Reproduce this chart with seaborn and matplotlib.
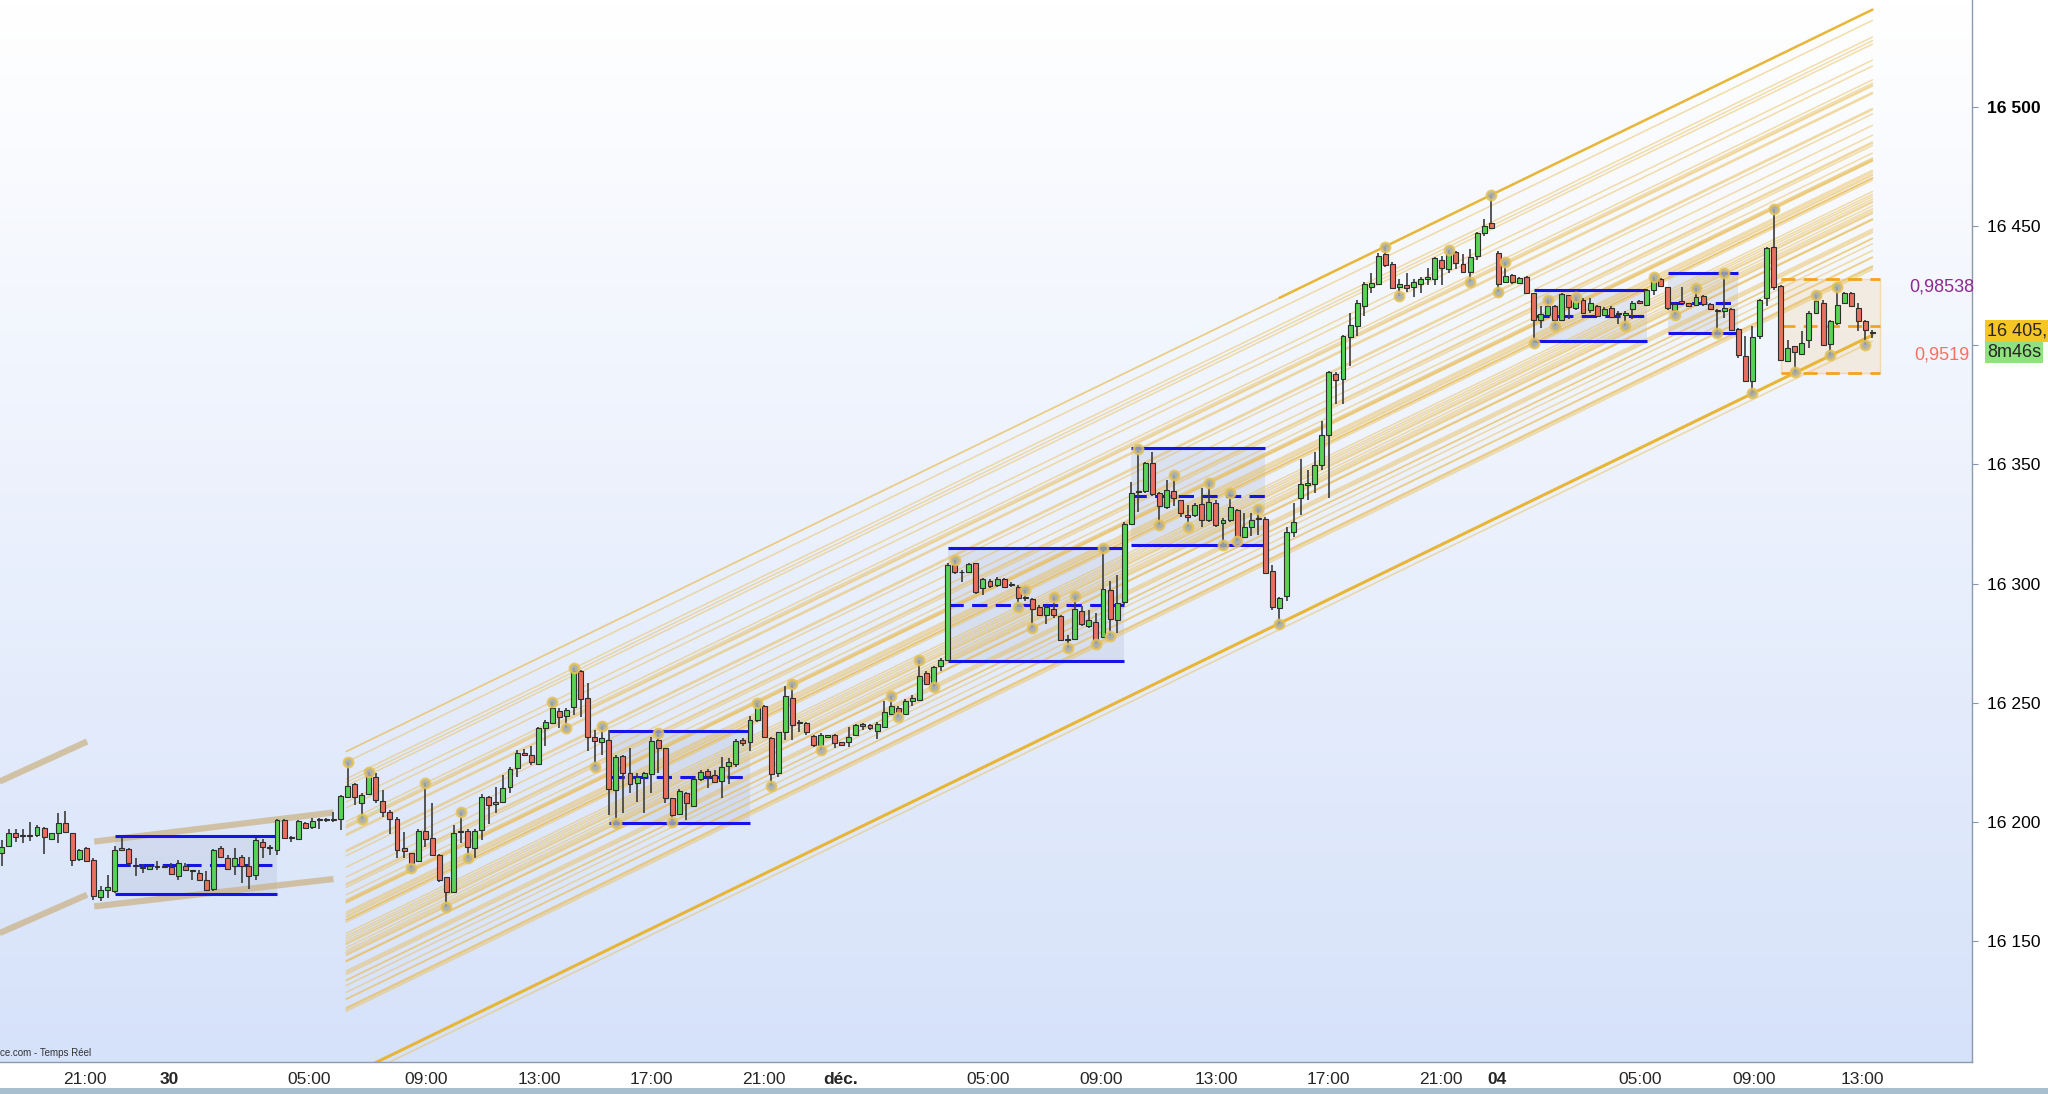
import numpy as np
import seaborn as sns
import matplotlib
matplotlib.use("Agg")
import matplotlib.pyplot as plt
import matplotlib.transforms as mtransforms
from matplotlib import font_manager
from matplotlib.patches import Rectangle

# ---------------------------------------------------------
# DONNÉES : bougies 15 min (index 0 = première bougie visible)
# ---------------------------------------------------------
opens = [
    16187.0, 16189.9, 16195.2, 16194.0, 16194.0, 16194.5, 16197.3, 16192.7, 16195.2, 16199.4,
    16195.2, 16184.3, 16188.9, 16184.1, 16168.4, 16171.5, 16170.8, 16188.2, 16188.5, 16182.0,
    16180.8, 16180.1, 16181.0, 16181.3, 16181.0, 16177.1, 16181.5, 16179.4, 16178.5, 16175.4,
    16171.7, 16188.9, 16184.7, 16181.3, 16185.4, 16181.5, 16177.8, 16191.7, 16188.9, 16188.2,
    16200.8, 16193.8, 16192.7, 16199.7, 16197.8, 16200.8, 16200.8, 16200.8, 16201.1, 16210.3,
    16215.9, 16207.8, 16211.7, 16218.7, 16208.9, 16204.3, 16201.1, 16188.9, 16186.8, 16183.7,
    16196.3, 16193.1, 16186.1, 16176.7, 16170.7, 16195.6, 16196.3, 16188.9, 16196.6, 16210.6,
    16207.3, 16208.2, 16214.5, 16222.5, 16229.0, 16228.0, 16224.3, 16239.2, 16241.6, 16246.6,
    16244.4, 16248.0, 16263.3, 16251.8, 16235.7, 16233.4, 16234.3, 16213.4, 16227.8, 16220.4,
    16216.4, 16218.7, 16220.1, 16234.3, 16230.8, 16209.9, 16203.3, 16212.2, 16206.6, 16217.9,
    16221.5, 16219.7, 16217.3, 16223.5, 16224.3, 16234.4, 16233.7, 16242.8, 16248.6, 16235.1,
    16220.4, 16237.9, 16251.9, 16241.4, 16241.4, 16236.2, 16232.3, 16235.8, 16236.5, 16233.4,
    16233.4, 16236.5, 16241.0, 16240.5, 16238.3, 16240.0, 16245.3, 16247.7, 16245.3, 16250.5,
    16251.2, 16262.6, 16257.9, 16265.2, 16268.0, 16307.8, 16304.7, 16304.7, 16308.5, 16298.0,
    16301.2, 16299.4, 16301.8, 16299.4, 16298.7, 16293.9, 16293.5, 16290.1, 16286.9, 16289.3,
    16286.5, 16276.4, 16276.8, 16288.3, 16282.3, 16283.7, 16277.5, 16297.4, 16284.8, 16292.1,
    16325.1, 16338.6, 16339.0, 16350.5, 16338.2, 16332.1, 16339.0, 16334.9, 16328.8, 16328.8,
    16333.5, 16326.7, 16333.7, 16325.3, 16326.5, 16330.9, 16319.7, 16323.7, 16327.2, 16327.0,
    16305.1, 16289.7, 16294.9, 16321.8, 16335.8, 16341.4, 16341.8, 16349.8, 16362.4, 16388.0,
    16385.8, 16403.4, 16407.9, 16416.5, 16424.4, 16425.6, 16438.4, 16434.2, 16424.4, 16425.1,
    16424.4, 16425.8, 16428.0, 16427.9, 16435.8, 16431.9, 16439.3, 16434.2, 16430.9, 16437.5,
    16447.0, 16451.2, 16438.6, 16426.5, 16429.5, 16426.0, 16428.8, 16421.8, 16410.7, 16412.8,
    16416.5, 16410.7, 16421.1, 16415.6, 16418.8, 16414.6, 16416.5, 16412.8, 16415.6, 16413.2,
    16412.8, 16415.1, 16418.4, 16417.0, 16423.2, 16427.7, 16424.4, 16414.9, 16418.4, 16417.7,
    16417.0, 16420.7, 16417.4, 16414.9, 16414.2, 16415.1, 16406.7, 16395.6, 16384.8, 16403.7,
    16419.7, 16441.1, 16424.9, 16393.2, 16399.5, 16396.4, 16402.0, 16413.7, 16417.9, 16400.6,
    16409.3, 16417.7, 16421.8, 16415.6, 16410.0, 16405.3,
]
highs = [
    16192.4, 16196.9, 16196.9, 16197.0, 16200.0, 16198.7, 16197.8, 16195.5, 16203.9, 16204.6,
    16195.5, 16188.8, 16189.3, 16184.7, 16172.9, 16177.8, 16189.9, 16193.1, 16188.9, 16184.7,
    16182.4, 16181.5, 16183.4, 16181.8, 16182.7, 16183.8, 16182.7, 16179.9, 16179.6, 16179.2,
    16188.5, 16189.9, 16186.1, 16188.9, 16186.1, 16185.4, 16193.1, 16192.7, 16190.3, 16201.1,
    16201.1, 16194.1, 16200.8, 16200.1, 16201.5, 16201.8, 16201.5, 16204.3, 16211.3, 16225.3,
    16216.2, 16212.0, 16221.1, 16220.4, 16213.4, 16205.0, 16202.0, 16195.9, 16187.0, 16196.9,
    16216.2, 16208.0, 16186.3, 16177.0, 16198.7, 16204.3, 16196.9, 16196.9, 16211.7, 16210.8,
    16214.8, 16219.7, 16223.2, 16230.1, 16230.4, 16231.8, 16239.7, 16242.7, 16250.4, 16247.6,
    16247.6, 16264.4, 16263.7, 16258.1, 16238.5, 16240.2, 16238.5, 16228.0, 16228.0, 16230.8,
    16220.4, 16221.1, 16235.7, 16237.1, 16231.0, 16210.2, 16213.6, 16212.7, 16218.3, 16221.8,
    16222.1, 16221.8, 16227.1, 16226.7, 16234.7, 16235.1, 16244.2, 16250.0, 16249.1, 16235.8,
    16237.9, 16256.8, 16257.9, 16242.8, 16242.1, 16236.5, 16237.2, 16236.5, 16236.9, 16233.7,
    16239.7, 16241.1, 16241.4, 16241.0, 16241.7, 16250.9, 16252.6, 16248.4, 16251.4, 16253.3,
    16268.0, 16263.1, 16265.4, 16268.6, 16308.5, 16309.9, 16305.7, 16308.8, 16308.8, 16302.2,
    16301.8, 16302.6, 16302.3, 16300.5, 16299.4, 16297.4, 16293.9, 16291.1, 16291.1, 16294.3,
    16286.9, 16278.5, 16294.6, 16290.4, 16289.0, 16287.6, 16314.9, 16300.9, 16303.7, 16326.0,
    16342.8, 16356.4, 16351.2, 16355.4, 16338.6, 16343.5, 16345.6, 16335.1, 16333.0, 16333.7,
    16340.0, 16342.4, 16335.1, 16327.4, 16338.2, 16331.2, 16329.8, 16329.8, 16331.2, 16327.9,
    16307.9, 16294.3, 16323.7, 16334.0, 16352.2, 16347.7, 16355.4, 16368.4, 16389.0, 16388.6,
    16404.4, 16413.7, 16418.8, 16426.7, 16430.5, 16438.6, 16441.4, 16435.1, 16427.7, 16430.5,
    16427.7, 16428.6, 16432.3, 16437.0, 16437.5, 16440.0, 16439.7, 16438.4, 16440.3, 16447.7,
    16452.9, 16463.1, 16439.7, 16435.1, 16430.0, 16428.6, 16429.1, 16422.1, 16416.5, 16419.1,
    16417.0, 16422.1, 16421.2, 16420.2, 16419.7, 16419.7, 16417.0, 16416.0, 16416.3, 16414.2,
    16414.2, 16418.4, 16418.8, 16423.5, 16428.8, 16428.1, 16424.6, 16417.9, 16424.4, 16417.9,
    16423.9, 16421.1, 16417.7, 16415.1, 16430.2, 16415.6, 16407.2, 16403.7, 16407.9, 16419.3,
    16441.4, 16457.1, 16425.3, 16402.3, 16399.7, 16405.8, 16414.2, 16421.1, 16418.8, 16410.7,
    16424.6, 16422.5, 16422.5, 16417.7, 16410.4, 16406.5,
]
lows = [
    16181.3, 16189.4, 16191.7, 16191.0, 16192.0, 16193.8, 16186.6, 16192.4, 16191.3, 16195.5,
    16181.3, 16183.6, 16183.0, 16167.3, 16166.6, 16168.0, 16170.1, 16187.6, 16182.0, 16177.1,
    16178.7, 16179.6, 16179.9, 16180.6, 16177.8, 16175.7, 16179.2, 16175.7, 16175.2, 16170.8,
    16171.0, 16184.7, 16179.9, 16177.8, 16174.3, 16171.7, 16175.7, 16184.7, 16186.1, 16186.1,
    16192.7, 16191.7, 16192.4, 16196.9, 16196.9, 16196.9, 16200.1, 16200.1, 16196.4, 16209.9,
    16207.1, 16201.1, 16211.3, 16208.1, 16202.0, 16195.0, 16184.7, 16184.7, 16180.5, 16183.3,
    16189.6, 16185.7, 16174.9, 16164.4, 16170.4, 16191.0, 16184.7, 16184.7, 16192.4, 16199.1,
    16203.9, 16207.8, 16212.0, 16219.0, 16227.6, 16223.9, 16223.9, 16231.8, 16241.3, 16239.2,
    16239.2, 16244.8, 16243.9, 16229.9, 16223.2, 16228.0, 16202.9, 16199.4, 16203.6, 16212.0,
    16208.5, 16203.6, 16212.0, 16220.4, 16207.8, 16200.1, 16202.9, 16200.8, 16206.4, 16217.3,
    16214.1, 16216.2, 16209.9, 16215.9, 16223.2, 16231.9, 16229.9, 16242.1, 16235.5, 16215.1,
    16219.0, 16234.4, 16234.4, 16237.9, 16236.5, 16231.6, 16230.2, 16235.5, 16230.9, 16231.9,
    16231.6, 16236.1, 16238.6, 16238.6, 16234.7, 16239.7, 16244.9, 16243.9, 16244.9, 16248.4,
    16250.5, 16257.5, 16256.5, 16263.5, 16267.7, 16303.9, 16300.8, 16304.3, 16295.5, 16295.2,
    16298.0, 16298.7, 16298.2, 16298.5, 16290.3, 16292.5, 16281.3, 16286.2, 16283.1, 16285.5,
    16276.1, 16272.9, 16276.4, 16282.3, 16281.3, 16274.7, 16277.1, 16277.8, 16279.2, 16291.1,
    16324.6, 16330.2, 16337.9, 16336.8, 16324.6, 16331.2, 16332.6, 16328.1, 16323.7, 16328.1,
    16323.7, 16326.0, 16323.9, 16316.3, 16326.0, 16317.7, 16319.5, 16320.0, 16320.4, 16304.1,
    16289.0, 16283.1, 16292.5, 16319.7, 16328.8, 16334.9, 16338.2, 16347.7, 16335.8, 16375.4,
    16375.4, 16391.4, 16403.9, 16412.3, 16422.1, 16425.3, 16432.8, 16423.5, 16420.7, 16422.5,
    16420.4, 16422.1, 16425.3, 16425.3, 16425.3, 16430.5, 16431.9, 16430.2, 16426.7, 16435.8,
    16445.9, 16448.7, 16422.5, 16426.0, 16425.8, 16425.8, 16421.6, 16401.1, 16407.2, 16412.1,
    16407.9, 16410.0, 16410.9, 16414.6, 16413.5, 16413.5, 16411.8, 16412.1, 16411.4, 16409.0,
    16408.1, 16410.9, 16417.4, 16416.5, 16421.1, 16424.6, 16414.9, 16412.8, 16417.4, 16416.0,
    16416.5, 16416.5, 16414.6, 16405.1, 16411.4, 16406.2, 16394.6, 16384.5, 16379.9, 16402.5,
    16416.5, 16423.2, 16393.2, 16392.8, 16388.6, 16396.0, 16398.8, 16413.2, 16399.7, 16396.0,
    16408.6, 16417.4, 16416.0, 16405.8, 16400.2, 16403.0,
]
closes = [
    16189.4, 16195.2, 16193.6, 16194.1, 16194.3, 16198.0, 16193.6, 16195.2, 16199.4, 16195.9,
    16184.1, 16188.2, 16183.4, 16168.7, 16171.5, 16172.6, 16188.2, 16188.9, 16182.7, 16181.3,
    16180.6, 16181.3, 16181.1, 16181.2, 16178.2, 16182.7, 16179.9, 16179.3, 16175.4, 16171.5,
    16188.2, 16185.4, 16180.1, 16184.7, 16181.3, 16177.3, 16192.4, 16189.4, 16189.0, 16200.8,
    16193.1, 16193.1, 16200.4, 16197.3, 16200.4, 16200.9, 16200.9, 16200.9, 16210.9, 16215.1,
    16210.3, 16211.3, 16219.7, 16209.2, 16204.3, 16201.1, 16188.2, 16187.8, 16182.6, 16196.3,
    16192.8, 16186.1, 16175.6, 16170.4, 16195.2, 16195.7, 16189.6, 16196.3, 16210.3, 16207.1,
    16208.2, 16214.1, 16222.0, 16229.0, 16228.0, 16225.0, 16239.2, 16242.0, 16247.6, 16243.9,
    16246.9, 16263.4, 16251.4, 16235.7, 16234.1, 16235.0, 16213.6, 16227.3, 16220.6, 16215.9,
    16218.7, 16220.6, 16234.1, 16230.8, 16209.9, 16202.9, 16213.1, 16207.8, 16217.8, 16220.8,
    16219.3, 16216.9, 16222.8, 16225.0, 16234.1, 16233.0, 16242.8, 16248.4, 16235.8, 16220.1,
    16237.5, 16252.6, 16240.7, 16241.5, 16237.5, 16232.3, 16236.5, 16236.3, 16233.0, 16232.3,
    16235.4, 16240.7, 16240.3, 16239.3, 16241.0, 16245.9, 16248.6, 16245.9, 16250.9, 16251.9,
    16261.4, 16257.9, 16264.9, 16268.0, 16307.8, 16304.7, 16304.8, 16308.2, 16296.3, 16301.8,
    16299.0, 16301.8, 16298.7, 16299.5, 16293.8, 16294.0, 16289.3, 16286.9, 16290.1, 16286.9,
    16276.4, 16276.5, 16289.3, 16283.1, 16284.5, 16276.1, 16297.7, 16285.1, 16291.8, 16325.1,
    16338.2, 16338.7, 16350.5, 16337.7, 16332.6, 16339.3, 16335.8, 16329.8, 16327.9, 16333.0,
    16326.5, 16334.4, 16324.6, 16326.5, 16332.1, 16319.0, 16323.9, 16326.5, 16327.3, 16304.4,
    16290.1, 16293.9, 16321.8, 16326.0, 16341.8, 16342.4, 16349.8, 16362.4, 16388.6, 16385.5,
    16403.7, 16408.6, 16417.7, 16425.6, 16426.0, 16437.5, 16433.7, 16423.9, 16425.6, 16423.9,
    16426.7, 16427.7, 16428.8, 16436.5, 16432.3, 16438.9, 16434.4, 16430.9, 16437.0, 16447.0,
    16450.1, 16449.1, 16425.8, 16429.1, 16426.7, 16428.1, 16421.8, 16410.7, 16413.2, 16416.3,
    16410.7, 16421.6, 16416.0, 16418.8, 16413.7, 16417.7, 16412.1, 16415.1, 16411.8, 16413.3,
    16413.7, 16417.7, 16417.7, 16423.2, 16427.4, 16424.9, 16415.6, 16417.4, 16417.7, 16416.3,
    16420.2, 16417.4, 16415.1, 16414.2, 16415.6, 16406.5, 16396.0, 16384.8, 16403.4, 16418.8,
    16440.7, 16424.4, 16393.9, 16398.8, 16397.0, 16400.9, 16413.7, 16418.4, 16400.2, 16410.0,
    16417.0, 16421.8, 16416.3, 16410.0, 16406.2, 16405.3,
]

# points pivots (cercles) : index de bougie + type (H = plus haut, L = plus bas)
pivot_idx = [49, 51, 52, 58, 60, 63, 65, 66, 78, 80, 81, 84, 85, 87, 93, 95,
             107, 109, 112, 116, 126, 127, 130, 132, 135, 144, 145, 146, 149, 151,
             152, 155, 156, 157, 161, 164, 166, 168, 171, 173, 174, 175, 178, 181,
             196, 198, 205, 208, 211, 212, 213, 217, 219, 220, 223, 230, 234, 237,
             240, 243, 244, 248, 251, 254, 257, 259, 260, 264]
pivot_kind = ["H", "L"] * 34

# pente commune du faisceau (points par bougie)
SLOPE = 1.44
FAN_START, FAN_END = 48.8, 265.0

# rectangles de range (bleus)
box_start = [16, 86, 134, 160, 217, 236]
box_end = [39, 106, 159, 179, 233, 246]
box_top = [16194.1, 16238.3, 16314.9, 16356.8, 16423.2, 16430.2]
box_bottom = [16169.9, 16199.4, 16267.5, 16316.3, 16401.6, 16405.1]

# rectangle orange (séance en cours)
obox_start, obox_end = 252.1, 266.1
obox_top, obox_bottom = 16427.9, 16388.3

# canaux beiges à gauche
tan_x0 = [-0.3, -0.3, 13.1, 13.1]
tan_x1 = [12.1, 12.1, 47.0, 47.0]
tan_y0 = [16216.9, 16153.3, 16191.7, 16164.5]
tan_y1 = [16233.7, 16169.4, 16203.9, 16176.0]

# axe du temps
xtick_pos = [11.8, 23.8, 43.6, 60.1, 76.2, 92.1, 108.0, 118.9, 139.8, 155.7,
             172.0, 187.9, 203.8, 211.8, 232.1, 248.2, 263.6]
xtick_lbl = ["21:00", "30", "05:00", "09:00", "13:00", "17:00", "21:00", "déc.", "05:00",
             "09:00", "13:00", "17:00", "21:00", "04", "05:00", "09:00", "13:00"]
day_lbls = ["30", "déc.", "04"]
ytick_vals = [16150, 16200, 16250, 16300, 16350, 16400, 16450, 16500]

# ---------------------------------------------------------
# STYLE
# ---------------------------------------------------------
sns.set_style("white")
names = {f.name for f in font_manager.fontManager.ttflist}
NARROW = "Liberation Sans Narrow" if "Liberation Sans Narrow" in names else "Liberation Sans"
XFS = 16 if NARROW == "Liberation Sans Narrow" else 12.5
plt.rcParams["font.family"] = ["Liberation Sans", "DejaVu Sans"]
plt.rcParams["lines.scale_dashes"] = False

W, H = 2048, 1094
fig = plt.figure(figsize=(W / 100, H / 100), dpi=100, facecolor="white")
ax = fig.add_axes([0, 32 / H, 1972 / W, 1062 / H])

idx = np.arange(len(opens))
o = np.array(opens); c = np.array(closes)
hi = np.array(highs); lo = np.array(lows)

# fond dégradé
grad = np.linspace(0, 1, 256)[:, None]
top_c = np.array([1.0, 1.0, 1.0]); bot_c = np.array([214, 226, 250]) / 255
img = top_c * (1 - grad[..., None]) + bot_c * grad[..., None]
ax.imshow(img, extent=[0, 1, 0, 1], transform=ax.transAxes, aspect="auto", zorder=0)

# rectangles de range
for s, e, t, b in zip(box_start, box_end, box_top, box_bottom):
    ax.add_patch(Rectangle((s, b), e - s, t - b, facecolor="#b9c3da", alpha=0.35,
                           edgecolor="none", zorder=1))
    ax.hlines([t, b], s, e, colors="#1414e8", lw=2.2, zorder=3.5)
    ax.plot([s, e], [(t + b) / 2] * 2, color="#1414e8", lw=2.2, dashes=(11, 6), zorder=3.5)

ax.add_patch(Rectangle((obox_start, obox_bottom), obox_end - obox_start, obox_top - obox_bottom,
                       facecolor="#f2e4cf", alpha=0.6, edgecolor="#f6c88a", lw=1, zorder=1))
for yv in [obox_top, obox_bottom, (obox_top + obox_bottom) / 2]:
    ax.plot([obox_start, obox_end], [yv, yv], color="#f5a31f", lw=2.0, dashes=(10, 6), zorder=3.5)

# canaux beiges
for x0, x1, y0, y1 in zip(tan_x0, tan_x1, tan_y0, tan_y1):
    ax.plot([x0, x1], [y0, y1], color="#c9ad78", lw=4.5, alpha=0.65,
            solid_capstyle="butt", zorder=2)

# faisceau de droites parallèles passant par les pivots
piv_px = [hi[i] if k == "H" else lo[i] for i, k in zip(pivot_idx, pivot_kind)]
for i, p in zip(pivot_idx, piv_px):
    ax.plot([FAN_START, FAN_END],
            [p + SLOPE * (FAN_START - i), p + SLOPE * (FAN_END - i)],
            color="#eabd55", lw=1.1, alpha=0.5, zorder=2)
# bornes du canal
for i in [181, 248]:
    p = lo[i]
    ax.plot([FAN_START, FAN_END], [p + SLOPE * (FAN_START - i), p + SLOPE * (FAN_END - i)],
            color="#e8b534", lw=1.6, alpha=0.9, zorder=2.5)
p = hi[211]
ax.plot([181, FAN_END], [p + SLOPE * (181 - 211), p + SLOPE * (FAN_END - 211)],
        color="#e8b534", lw=1.8, alpha=0.95, zorder=2.5)

# bougies
up = c >= o
body_lo = np.minimum(o, c)
body_h = np.maximum(np.abs(c - o), 0.35)
ax.vlines(idx, lo, hi, colors="#3c3c3c", lw=1.2, zorder=4)
ax.bar(idx, body_h, bottom=body_lo, width=0.7,
       color=np.where(up, "#58d356", "#e8705e"), edgecolor="#2e2e2e", linewidth=0.8, zorder=5)

# cercles des pivots
sns.scatterplot(x=pivot_idx, y=piv_px, s=45, color="#a3a9ad", edgecolor="#e4c254",
                linewidth=1.8, alpha=0.85, zorder=6, ax=ax, legend=False)

# ---------------------------------------------------------
# AXES
# ---------------------------------------------------------
ax.set_xlim(-0.24, 279.1)
ax.set_ylim(16099.2, 16544.9)

ax.yaxis.tick_right()
ax.set_yticks(ytick_vals)
ax.set_yticklabels([f"{v:,}".replace(",", " ") for v in ytick_vals])
ax.tick_params(axis="y", length=4, color="#8796a8", pad=7, labelsize=12.6, labelcolor="black")
for t, v in zip(ax.get_yticklabels(), ytick_vals):
    if v == 16500:
        t.set_fontweight("bold")
    if v == 16400:
        t.set_visible(False)

ax.set_xticks(xtick_pos)
ax.set_xticklabels(xtick_lbl, family=NARROW, fontsize=XFS)
ax.tick_params(axis="x", length=4, color="#8796a8", pad=3)
for t in ax.get_xticklabels():
    if t.get_text() in day_lbls:
        t.set_fontweight("bold")

for side in ["top", "left"]:
    ax.spines[side].set_visible(False)
for side in ["right", "bottom"]:
    ax.spines[side].set_color("#8a9ab0")
    ax.spines[side].set_linewidth(1.0)

# étiquettes de prix à droite
trans = mtransforms.blended_transform_factory(ax.transAxes, ax.transData)
ax.text(1.0075, 16406.0, "16 405,", transform=trans, ha="left", va="center", fontsize=13,
        bbox=dict(boxstyle="square,pad=0.12", fc="#f6c624", ec="none"), clip_on=False, zorder=8)
ax.text(1.0075, 16397.0, "8m46s", transform=trans, ha="left", va="center", fontsize=13,
        bbox=dict(boxstyle="square,pad=0.12", fc="#8fe27e", ec="none"), clip_on=False, zorder=8)

ax.text(274.8, 16424.5, "0,98538", ha="center", va="center", fontsize=13, color="#8e2a8e", zorder=8)
ax.text(274.8, 16396.0, "0,9519", ha="center", va="center", fontsize=13, color="#f4725e", zorder=8)

ax.text(0.0, 0.004, "ce.com - Temps Réel", transform=ax.transAxes, fontsize=7,
        family=NARROW, color="#333333", ha="left", va="bottom", zorder=8)

# bande du bas
fig.add_artist(Rectangle((0, 0), 1, 6 / H, transform=fig.transFigure,
                         facecolor="#a7bfcf", edgecolor="none"))

fig.savefig("out.png", dpi=100, facecolor="white")
